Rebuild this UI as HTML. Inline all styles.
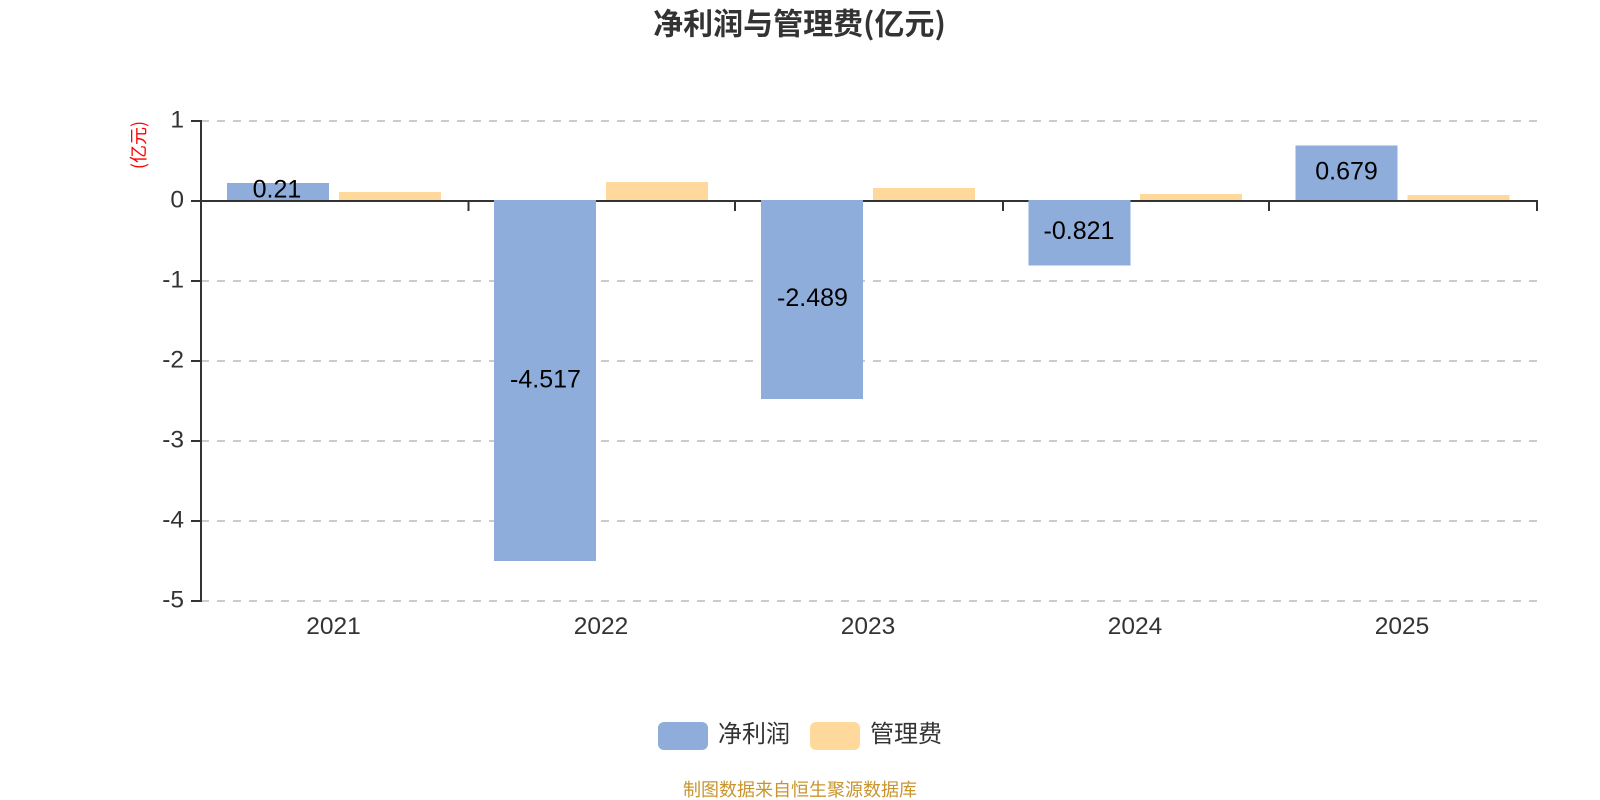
<!DOCTYPE html>
<html lang="zh-CN">
<head>
<meta charset="utf-8">
<title>净利润与管理费(亿元)</title>
<style>
html,body{margin:0;padding:0;background:#fff;width:1600px;height:800px;overflow:hidden}
svg{display:block}
text{font-family:"Liberation Sans","Noto Sans CJK SC",sans-serif}
.cjk{font-family:"Noto Sans CJK SC","Liberation Sans",sans-serif}
.tick{font-size:24.5px;fill:#333}
.val{font-size:25px;fill:#000;text-anchor:middle}
.blue{fill:#8eaddb}
.org{fill:#ffd99c}
</style>
</head>
<body>
<svg width="1600" height="800" viewBox="0 0 1600 800" xmlns="http://www.w3.org/2000/svg">
<rect width="1600" height="800" fill="#fff"/>

<text class="cjk" x="799.500" y="34.500" font-size="30" font-weight="700" fill="#333" text-anchor="middle">净利润与管理费(亿元)</text>

<text class="cjk" transform="translate(145,145) rotate(-90)" font-size="18" fill="#f00" text-anchor="middle">(亿元)</text>

<g stroke="#ccc" stroke-width="2" stroke-dasharray="8 8" fill="none">
<path d="M201 121H1537"/>
<path d="M201 281H1537"/>
<path d="M201 361H1537"/>
<path d="M201 441H1537"/>
<path d="M201 521H1537"/>
<path d="M201 601H1537"/>
</g>

<g stroke="#333" stroke-width="2" fill="none">
<path d="M201 120V602"/>
<path d="M191 121H201M191 201H201M191 281H201M191 361H201M191 441H201M191 521H201M191 601H201"/>
<path d="M200 201H1538"/>
<path d="M468.500 201V211M735 201V211M1003 201V211M1269 201V211M1537 201V211"/>
</g>

<g class="tick" text-anchor="end">
<text x="184" y="127.500">1</text>
<text x="184" y="207.500">0</text>
<text x="184" y="287.500">-1</text>
<text x="184" y="367.500">-2</text>
<text x="184" y="447.500">-3</text>
<text x="184" y="527.500">-4</text>
<text x="184" y="607.500">-5</text>
</g>

<g class="tick" text-anchor="middle">
<text x="333.500" y="634">2021</text>
<text x="601" y="634">2022</text>
<text x="868" y="634">2023</text>
<text x="1135" y="634">2024</text>
<text x="1402" y="634">2025</text>
</g>

<rect class="blue" x="227" y="183" width="102" height="17"/>
<rect class="org" x="339" y="192" width="102" height="8"/>
<rect class="blue" x="494" y="200" width="102" height="361"/>
<rect class="org" x="606" y="182" width="102" height="18"/>
<rect class="blue" x="761" y="200" width="102" height="199"/>
<rect class="org" x="873" y="188" width="102" height="12"/>
<rect class="blue" x="1028.500" y="200" width="102" height="65.500"/>
<rect class="org" x="1140" y="194" width="102" height="6"/>
<rect class="blue" x="1295.500" y="145.500" width="102" height="54.500"/>
<rect class="org" x="1407.500" y="195" width="102" height="5"/>

<text class="val" x="277" y="197.500">0.21</text>
<text class="val" x="545.500" y="387.500">-4.517</text>
<text class="val" x="812.500" y="306">-2.489</text>
<text class="val" x="1079" y="239">-0.821</text>
<text class="val" x="1346.500" y="179.500">0.679</text>

<rect x="658" y="722" width="50" height="28" rx="6" fill="#8eaddb"/>
<text class="cjk" x="718" y="742" font-size="24" fill="#333">净利润</text>
<rect x="810" y="722" width="50" height="28" rx="6" fill="#ffd99c"/>
<text class="cjk" x="870" y="742" font-size="24" fill="#333">管理费</text>

<text class="cjk" x="800" y="796" font-size="18" fill="#c8952d" text-anchor="middle">制图数据来自恒生聚源数据库</text>
</svg>
</body>
</html>
